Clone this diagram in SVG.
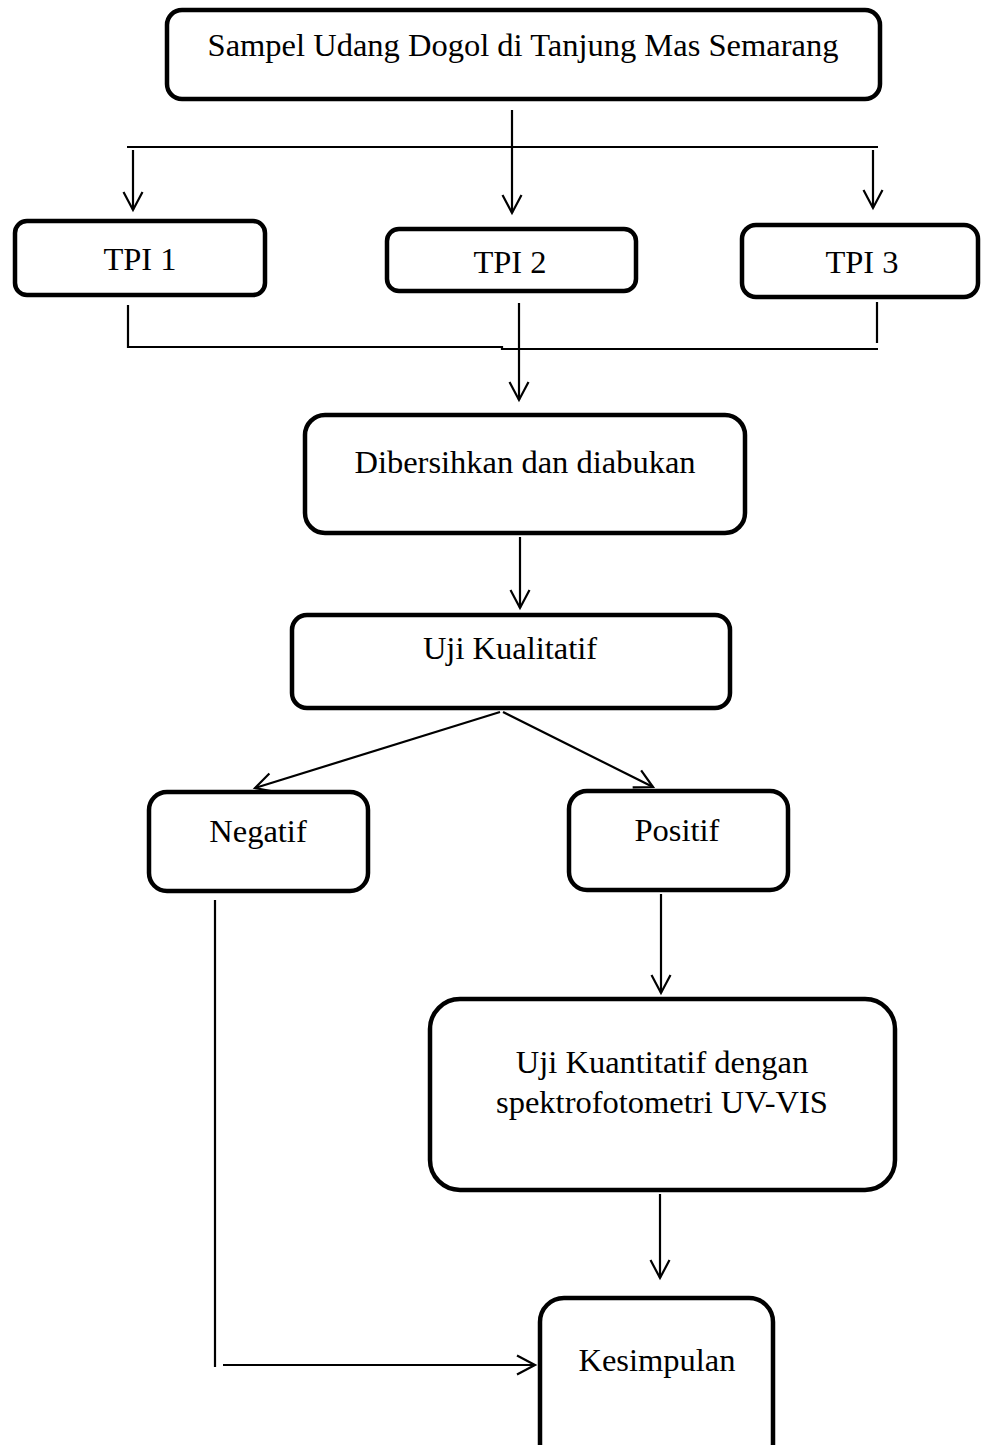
<svg xmlns="http://www.w3.org/2000/svg" width="982" height="1445" viewBox="0 0 982 1445">
<defs>
<marker id="arr" viewBox="0 0 22 22" markerWidth="22" markerHeight="22" refX="19" refY="11" orient="auto" markerUnits="userSpaceOnUse">
<path d="M1,1.5 L19,11 L1,20.5" fill="none" stroke="#000" stroke-width="2.2"/>
</marker>
</defs>
<style>
.box{fill:#fff;stroke:#000;stroke-width:4.5}
.t{font-family:"Liberation Serif","Times New Roman",serif;font-size:32.5px;fill:#000;text-anchor:middle}
.c{fill:none;stroke:#000;stroke-width:2.2}
.a{marker-end:url(#arr)}
</style>
<rect width="982" height="1445" fill="#fff"/>
<g id="connectors">
<line class="c a" x1="512" y1="110" x2="512" y2="213"/>
<line class="c" x1="127" y1="147" x2="878" y2="147"/>
<line class="c a" x1="133" y1="150" x2="133" y2="210"/>
<line class="c a" x1="873" y1="150" x2="873" y2="208"/>
<polyline class="c" points="128,305 128,347 502,347 502,349 878,349"/>
<line class="c" x1="877" y1="302" x2="877" y2="343"/>
<line class="c a" x1="519" y1="303" x2="519" y2="400"/>
<line class="c a" x1="520" y1="537" x2="520" y2="608"/>
<line class="c a" x1="500" y1="712" x2="255" y2="788"/>
<line class="c a" x1="503" y1="712" x2="653" y2="787"/>
<line class="c a" x1="661" y1="894" x2="661" y2="993"/>
<line class="c a" x1="660" y1="1194" x2="660" y2="1278"/>
<line class="c" x1="215" y1="900" x2="215" y2="1367"/>
<line class="c a" x1="223" y1="1365" x2="535" y2="1365"/>
</g>
<g id="n-sampel">
<rect class="box" x="167" y="10" width="713" height="89" rx="15"/>
<text class="t" x="523" y="56">Sampel Udang Dogol di Tanjung Mas Semarang</text>
</g>
<g id="n-tpi1">
<rect class="box" x="15" y="221" width="250" height="74" rx="12"/>
<text class="t" x="140" y="270">TPI 1</text>
</g>
<g id="n-tpi2">
<rect class="box" x="387" y="229" width="249" height="62" rx="12"/>
<text class="t" x="510" y="273">TPI 2</text>
</g>
<g id="n-tpi3">
<rect class="box" x="742" y="225" width="236" height="72" rx="14"/>
<text class="t" x="862" y="273">TPI 3</text>
</g>
<g id="n-dibersihkan">
<rect class="box" x="305" y="415" width="440" height="118" rx="20"/>
<text class="t" x="525" y="473">Dibersihkan dan diabukan</text>
</g>
<g id="n-kualitatif">
<rect class="box" x="292" y="615" width="438" height="93" rx="15"/>
<text class="t" x="510" y="659">Uji Kualitatif</text>
</g>
<g id="n-negatif">
<rect class="box" x="149" y="792" width="219" height="99" rx="18"/>
<text class="t" x="258" y="842">Negatif</text>
</g>
<g id="n-positif">
<rect class="box" x="569" y="791" width="219" height="99" rx="18"/>
<text class="t" x="677" y="841">Positif</text>
</g>
<g id="n-kuantitatif">
<rect class="box" x="430" y="999" width="465" height="191" rx="30"/>
<text class="t" x="662" y="1073">Uji Kuantitatif dengan</text>
<text class="t" x="662" y="1113">spektrofotometri UV-VIS</text>
</g>
<g id="n-kesimpulan">
<rect class="box" x="540" y="1298" width="233" height="170" rx="24"/>
<text class="t" x="657" y="1371">Kesimpulan</text>
</g>
</svg>
